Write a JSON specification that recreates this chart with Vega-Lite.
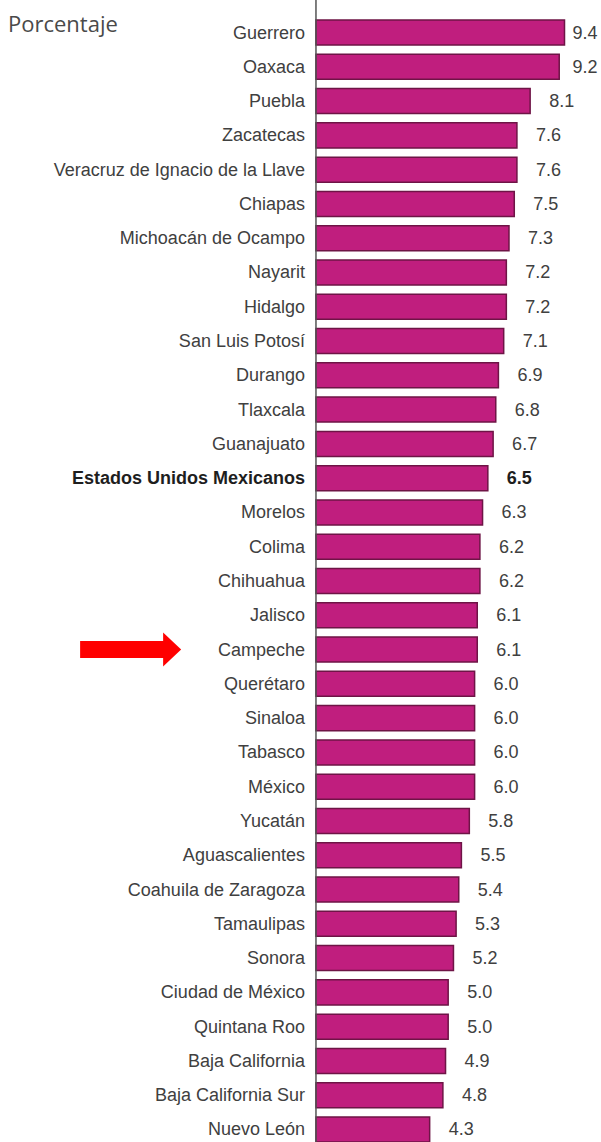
{
  "$schema": "https://vega.github.io/schema/vega-lite/v6.json",
  "width": 601,
  "height": 1142,
  "autosize": {"type": "none"},
  "padding": 0,
  "background": "white",
  "title": {"text": "Porcentaje", "anchor": "start", "frame": "group", "offset": -38, "dx": 8, "font": "Open Sans", "fontSize": 22, "fontWeight": "normal", "color": "#4a4a4a"},
  "config": {"view": {"stroke": null}},
  "data": {"values": [
    {"state": "Guerrero", "value": 9.4},
    {"state": "Oaxaca", "value": 9.2},
    {"state": "Puebla", "value": 8.1},
    {"state": "Zacatecas", "value": 7.6},
    {"state": "Veracruz de Ignacio de la Llave", "value": 7.6},
    {"state": "Chiapas", "value": 7.5},
    {"state": "Michoacán de Ocampo", "value": 7.3},
    {"state": "Nayarit", "value": 7.2},
    {"state": "Hidalgo", "value": 7.2},
    {"state": "San Luis Potosí", "value": 7.1},
    {"state": "Durango", "value": 6.9},
    {"state": "Tlaxcala", "value": 6.8},
    {"state": "Guanajuato", "value": 6.7},
    {"state": "Estados Unidos Mexicanos", "value": 6.5},
    {"state": "Morelos", "value": 6.3},
    {"state": "Colima", "value": 6.2},
    {"state": "Chihuahua", "value": 6.2},
    {"state": "Jalisco", "value": 6.1},
    {"state": "Campeche", "value": 6.1},
    {"state": "Querétaro", "value": 6.0},
    {"state": "Sinaloa", "value": 6.0},
    {"state": "Tabasco", "value": 6.0},
    {"state": "México", "value": 6.0},
    {"state": "Yucatán", "value": 5.8},
    {"state": "Aguascalientes", "value": 5.5},
    {"state": "Coahuila de Zaragoza", "value": 5.4},
    {"state": "Tamaulipas", "value": 5.3},
    {"state": "Sonora", "value": 5.2},
    {"state": "Ciudad de México", "value": 5.0},
    {"state": "Quintana Roo", "value": 5.0},
    {"state": "Baja California", "value": 4.9},
    {"state": "Baja California Sur", "value": 4.8},
    {"state": "Nuevo León", "value": 4.3}
  ]},
  "layer": [
    {
      "mark": {"type": "bar", "fill": "#C01E7E", "stroke": "#6E1446", "strokeWidth": 1.5},
      "encoding": {
        "y": {"field": "state", "type": "nominal", "sort": null, "axis": null, "scale": {"paddingInner": 0.27, "paddingOuter": 0.292, "align": 1}},
        "x": {"field": "value", "type": "quantitative", "axis": null, "scale": {"domain": [-11.95, 10.78], "nice": false, "zero": false}}
      }
    },
    {
      "data": {"values": [{}]},
      "mark": {"type": "rule", "color": "#555555", "strokeWidth": 1.5},
      "encoding": {
        "x": {"datum": 0, "type": "quantitative"}
      }
    },
    {
      "transform": [{"filter": "datum.state !== 'Estados Unidos Mexicanos'"}],
      "mark": {"type": "text", "align": "right", "baseline": "middle", "dx": -11, "dy": 1, "font": "Liberation Sans", "fontSize": 18, "color": "#404040"},
      "encoding": {
        "y": {"field": "state", "type": "nominal", "sort": null},
        "x": {"datum": 0, "type": "quantitative"},
        "text": {"field": "state"}
      }
    },
    {
      "transform": [{"filter": "datum.state === 'Estados Unidos Mexicanos'"}],
      "mark": {"type": "text", "align": "right", "baseline": "middle", "dx": -11, "dy": 1, "font": "Liberation Sans", "fontSize": 18, "fontWeight": "bold", "color": "#1e1e1e"},
      "encoding": {
        "y": {"field": "state", "type": "nominal", "sort": null},
        "x": {"datum": 0, "type": "quantitative"},
        "text": {"field": "state"}
      }
    },
    {
      "transform": [{"filter": "datum.state !== 'Estados Unidos Mexicanos'"}, {"calculate": "min(datum.value, 8.98)", "as": "lp"}],
      "mark": {"type": "text", "align": "left", "baseline": "middle", "dx": 19, "dy": 1, "font": "Liberation Sans", "fontSize": 18, "color": "#404040"},
      "encoding": {
        "y": {"field": "state", "type": "nominal", "sort": null},
        "x": {"field": "lp", "type": "quantitative"},
        "text": {"field": "value", "type": "quantitative", "format": ".1f"}
      }
    },
    {
      "transform": [{"filter": "datum.state === 'Estados Unidos Mexicanos'"}, {"calculate": "min(datum.value, 8.98)", "as": "lp"}],
      "mark": {"type": "text", "align": "left", "baseline": "middle", "dx": 19, "dy": 1, "font": "Liberation Sans", "fontSize": 18, "fontWeight": "bold", "color": "#1e1e1e"},
      "encoding": {
        "y": {"field": "state", "type": "nominal", "sort": null},
        "x": {"field": "lp", "type": "quantitative"},
        "text": {"field": "value", "type": "quantitative", "format": ".1f"}
      }
    },
    {
      "transform": [{"filter": "datum.state === 'Campeche'"}],
      "mark": {"type": "rule", "color": "#FF0000", "strokeWidth": 17, "strokeCap": "butt"},
      "encoding": {
        "y": {"field": "state", "type": "nominal", "sort": null},
        "x": {"datum": -8.92, "type": "quantitative"},
        "x2": {"datum": -5.72}
      }
    },
    {
      "transform": [{"filter": "datum.state === 'Campeche'"}],
      "mark": {"type": "point", "shape": "M-0.53,-1L0.53,0L-0.53,1Z", "filled": true, "color": "#FF0000", "opacity": 1, "strokeWidth": 0, "size": 1156},
      "encoding": {
        "y": {"field": "state", "type": "nominal", "sort": null},
        "x": {"datum": -5.44, "type": "quantitative"}
      }
    }
  ]
}
